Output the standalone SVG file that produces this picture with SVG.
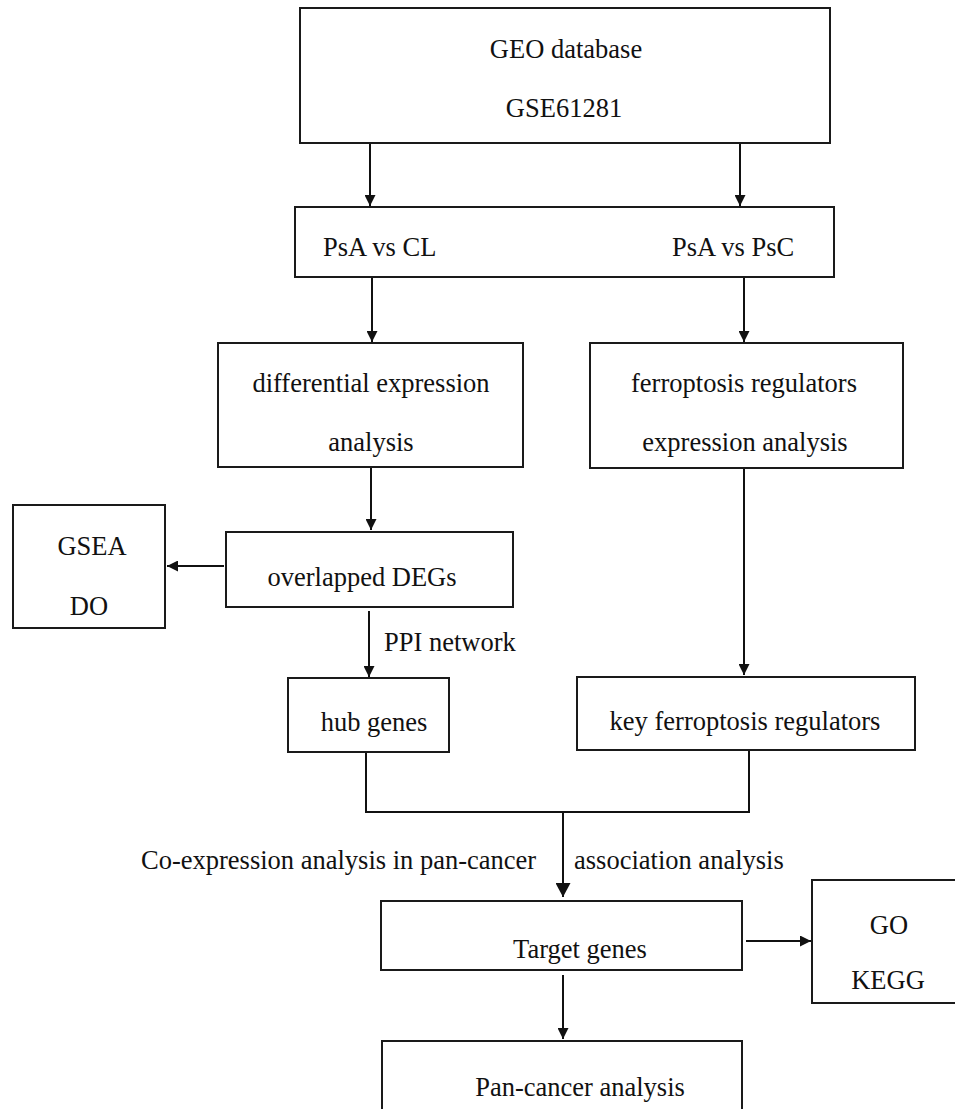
<svg xmlns="http://www.w3.org/2000/svg" width="955" height="1109" viewBox="0 0 955 1109">
<style>
.box{fill:#fff;stroke:#1a1a1a;stroke-width:2}
.t{font-family:"Liberation Serif","Times New Roman",serif;font-size:26.5px;fill:#111;text-anchor:middle}
.tl{font-family:"Liberation Serif","Times New Roman",serif;font-size:26.5px;fill:#111}
.c{fill:none;stroke:#111;stroke-width:2}
</style>
<defs>
<marker id="ah" viewBox="0 0 11 11" refX="11" refY="5.5" markerWidth="11" markerHeight="11" markerUnits="userSpaceOnUse" orient="auto">
<path d="M0,0 L11,5.5 L0,11 Z" fill="#111"/>
</marker>
<marker id="ahb" viewBox="0 0 14 15" refX="14" refY="7.5" markerWidth="14" markerHeight="15" markerUnits="userSpaceOnUse" orient="auto">
<path d="M0,0 L14,7.5 L0,15 Z" fill="#111"/>
</marker>
</defs>
<rect width="955" height="1109" fill="#fff"/>
<g id="connectors">
<line class="c" x1="370" y1="142" x2="370" y2="206" marker-end="url(#ah)"/>
<line class="c" x1="740" y1="142" x2="740" y2="206" marker-end="url(#ah)"/>
<line class="c" x1="372" y1="277" x2="372" y2="342" marker-end="url(#ah)"/>
<line class="c" x1="744" y1="277" x2="744" y2="342" marker-end="url(#ah)"/>
<line class="c" x1="371" y1="467" x2="371" y2="530" marker-end="url(#ah)"/>
<line class="c" x1="224" y1="566" x2="167" y2="566" marker-end="url(#ah)"/>
<line class="c" x1="369" y1="611" x2="369" y2="677" marker-end="url(#ah)"/>
<line class="c" x1="744" y1="468" x2="744" y2="675" marker-end="url(#ah)"/>
<polyline class="c" points="366,753 366,812 749,812 749,751"/>
<line class="c" x1="563" y1="812" x2="563" y2="897" stroke-width="3" marker-end="url(#ahb)"/>
<line class="c" x1="746" y1="941" x2="811" y2="941" marker-end="url(#ah)"/>
<line class="c" x1="563" y1="975" x2="563" y2="1039" marker-end="url(#ah)"/>
<text class="tl" x="384" y="651">PPI network</text>
<text class="tl" x="141" y="869">Co-expression analysis in pan-cancer</text>
<text class="tl" x="574" y="869">association analysis</text>
</g>
<g id="geo"><rect class="box" x="300" y="8" width="530" height="135"/>
<text class="t" x="566" y="58">GEO database</text><text class="t" x="564" y="117">GSE61281</text></g>
<g id="psa"><rect class="box" x="295" y="207" width="539" height="70"/>
<text class="tl" x="323" y="256">PsA vs CL</text><text class="tl" x="672" y="256">PsA vs PsC</text></g>
<g id="diff"><rect class="box" x="218" y="343" width="305" height="124"/>
<text class="t" x="371" y="392">differential expression</text><text class="t" x="371" y="451">analysis</text></g>
<g id="ferro"><rect class="box" x="590" y="343" width="313" height="125"/>
<text class="t" x="744" y="392">ferroptosis regulators</text><text class="t" x="745" y="451">expression analysis</text></g>
<g id="degs"><rect class="box" x="226" y="532" width="287" height="75"/>
<text class="t" x="362" y="586">overlapped DEGs</text></g>
<g id="gsea"><rect class="box" x="13" y="505" width="152" height="123"/>
<text class="t" x="92" y="555">GSEA</text><text class="t" x="89" y="615">DO</text></g>
<g id="hub"><rect class="box" x="288" y="678" width="161" height="74"/>
<text class="t" x="374" y="731">hub genes</text></g>
<g id="key"><rect class="box" x="577" y="677" width="338" height="73"/>
<text class="t" x="745" y="730">key ferroptosis regulators</text></g>
<g id="target"><rect class="box" x="381" y="901" width="361" height="69"/>
<text class="t" x="580" y="958">Target genes</text></g>
<g id="gokegg"><rect class="box" x="812" y="880" width="145" height="123"/>
<text class="t" x="889" y="934">GO</text><text class="t" x="888" y="989">KEGG</text></g>
<g id="pan"><rect class="box" x="382" y="1041" width="360" height="80"/>
<text class="t" x="580" y="1096">Pan-cancer analysis</text></g>
</svg>
